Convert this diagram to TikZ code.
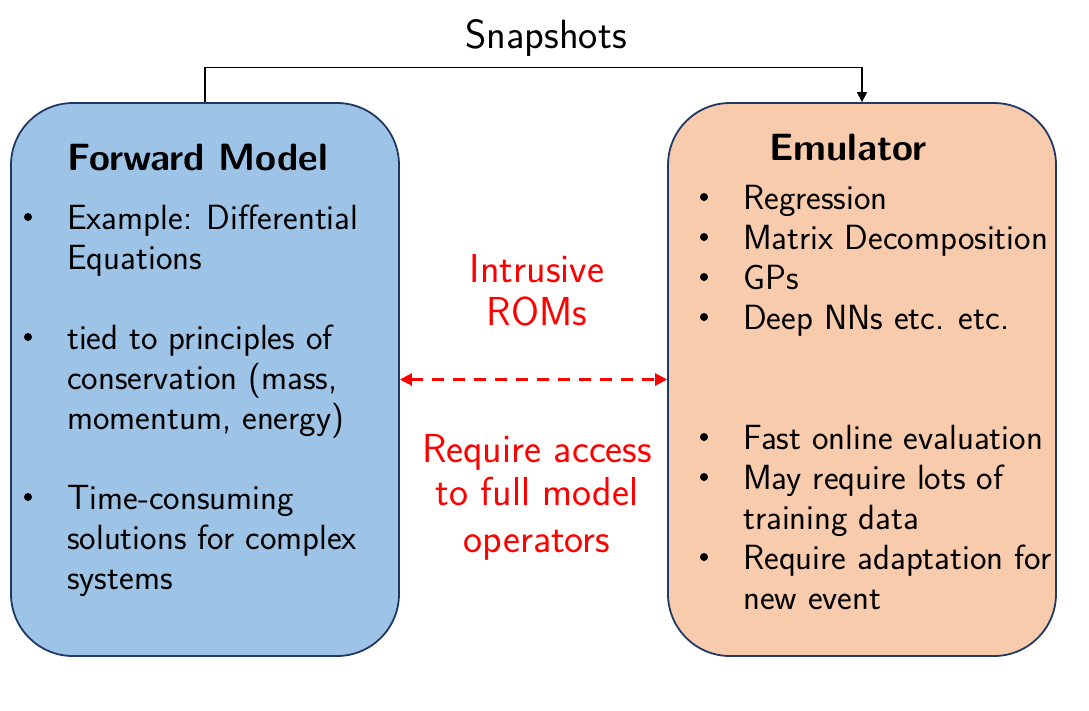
\documentclass[tikz,border=0pt]{standalone}
\usetikzlibrary{arrows.meta}
\definecolor{lblue}{HTML}{9DC3E6}
\definecolor{lpeach}{HTML}{F8CBAD}
\definecolor{navy}{HTML}{203864}
\definecolor{rred}{HTML}{FF0000}
\begin{document}
\begin{tikzpicture}[x=1pt,y=-1pt,
  panel/.style={draw=navy,line width=1.8pt,rounded corners=62pt,minimum width=388pt,minimum height=553pt,inner sep=0pt},
  txt/.style={anchor=base west,inner sep=0pt,font=\sffamily\fontsize{35}{40}\selectfont},
  ttl/.style={anchor=base,inner sep=0pt,font=\sffamily\bfseries\fontsize{38}{42}\selectfont},
  rtxt/.style={anchor=base,inner sep=0pt,text=rred,font=\sffamily\fontsize{40.4}{44}\selectfont},
  bul/.style={circle,fill=black,inner sep=0pt,minimum size=8pt}]
\useasboundingbox (0,0) rectangle (1089,710);
\node[panel,fill=lblue] (fm) at (205,379.5) {};
\node[panel,fill=lpeach] (em) at (862,379.5) {};
% Snapshots connector
\draw[line width=1.1pt,-{Triangle[length=10pt,width=10pt]}] (fm.north) -- ++(0,-35) -| (em.north);
\node[anchor=base,inner sep=0pt,font=\sffamily\fontsize{40.8}{44}\selectfont] (snap) at (546,48) {Snapshots};
% red dashed arrow
\draw[rred,line width=2.6pt,dash pattern=on 12pt off 9pt,{Triangle[length=12pt,width=12pt]}-{Triangle[length=12pt,width=12pt]}] (fm.east) -- (em.west);
\node[rtxt] (r1) at (537,282) {Intrusive};
\node[rtxt] (r2) at (537,325) {ROMs};
\node[rtxt] (r3) at (537,462) {Require access};
\node[rtxt] (r4) at (537,505) {to full model};
\node[rtxt] (r5) at (537,552) {operators};
% left box text
\node[ttl,anchor=base west] (fmt) at (67,170) {Forward Model};
\node[bul] (b1) at (28,217) {};
\node[txt] (l1) at (67,229) {Example: Differential};
\node[txt] (l2) at (67,269) {Equations};
\node[bul] (b2) at (28,337) {};
\node[txt] (l3) at (67,349) {tied to principles of};
\node[txt] (l4) at (67,389) {conservation (mass,};
\node[txt] (l5) at (67,429) {momentum, energy)};
\node[bul] (b3) at (28,497) {};
\node[txt] (l6) at (67,509) {Time-consuming};
\node[txt] (l7) at (67,549) {solutions for complex};
\node[txt] (l8) at (67,589) {systems};
% right box text
\node[ttl] (emt) at (848,160) {Emulator};
\node[bul] (c1) at (704,197) {};
\node[txt] (m1) at (743,209) {Regression};
\node[bul] (c2) at (704,237) {};
\node[txt] (m2) at (743,249) {Matrix Decomposition};
\node[bul] (c3) at (704,277) {};
\node[txt] (m3) at (743,289) {GPs};
\node[bul] (c4) at (704,317) {};
\node[txt] (m4) at (743,329) {Deep NNs etc. etc.};
\node[bul] (c5) at (704,437) {};
\node[txt] (m5) at (743,449) {Fast online evaluation};
\node[bul] (c6) at (704,477) {};
\node[txt] (m6) at (743,489) {May require lots of};
\node[txt] (m7) at (743,529) {training data};
\node[bul] (c7) at (704,557) {};
\node[txt] (m8) at (743,569) {Require adaptation for};
\node[txt] (m9) at (743,609) {new event};
\end{tikzpicture}
\end{document}
